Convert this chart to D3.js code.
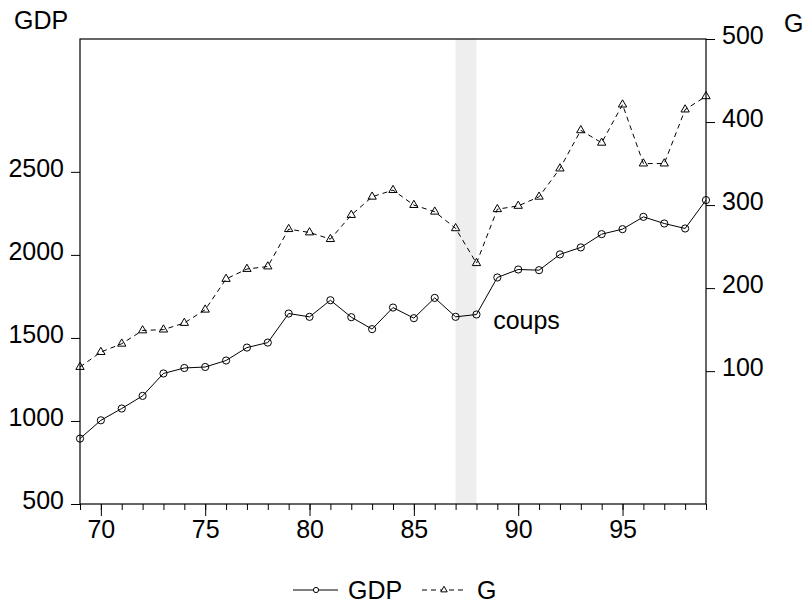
<!DOCTYPE html>
<html>
<head>
<meta charset="utf-8">
<script src="https://cdn.jsdelivr.net/npm/d3@7"></script>
<style>
body { margin: 0; background: #fff; }
svg text { font-family: "Liberation Sans", Arial, sans-serif; font-size: 25px; fill: #000; }
</style>
</head>
<body>
<svg id="chart"></svg>
<script>
const years = d3.range(69, 100);

const gdp = [894, 1004, 1075, 1151, 1286, 1319, 1325, 1364, 1442, 1472,
    1647, 1627, 1727, 1625, 1553, 1683, 1619, 1741, 1627, 1641,
    1864, 1912, 1908, 2003, 2045, 2125, 2155, 2229, 2189, 2159, 2330];

const gov = [105, 123, 133, 149, 150, 158, 174, 211, 223, 226,
    271, 267, 259, 288, 310, 318, 300, 292, 272, 230,
    295, 299, 310, 344, 390, 375, 421, 350, 350, 415, 431];

const leftTicks = [500, 1000, 1500, 2000, 2500];
const rightTicks = [100, 200, 300, 400, 500];
const xMajor = [70, 75, 80, 85, 90, 95];

const shade = [87, 88];
const note = {year: 88.8, gdp: 1553, text: "coups"};

const svgWidth = 806, svgHeight = 606;
const margin = {top: 39, left: 80},
    width = 626,
    height = 465;

const chart = d3.select("#chart")
    .attr("width", svgWidth)
    .attr("height", svgHeight);

const g = chart.append("g")
    .attr("transform", `translate(${margin.left},${margin.top})`);

var xScale = d3.scaleLinear().domain([69, 99]).range([0, width]);
var yLeft = d3.scaleLinear().domain([500, 3300]).range([height, 0]);
var yRight = d3.scaleLinear().domain([-60, 500]).range([height, 0]);

// shaded band
g.append("rect")
    .attr("x", xScale(shade[0]))
    .attr("y", 0)
    .attr("width", xScale(shade[1]) - xScale(shade[0]))
    .attr("height", height)
    .style("fill", "#eeeeee");

// minor x ticks (every year)
g.append("g")
    .attr("transform", `translate(0,${height})`)
    .call(d3.axisBottom(xScale).tickValues(years).tickSize(6).tickFormat(""))
    .call(a => a.select(".domain").remove());

g.append("g")
    .attr("transform", `translate(0,${height})`)
    .call(d3.axisBottom(xScale).tickValues(xMajor).tickSize(12).tickPadding(4).tickFormat(d3.format("d")))
    .call(a => a.select(".domain").remove());

g.append("g")
    .call(d3.axisLeft(yLeft).tickValues(leftTicks).tickSize(9).tickPadding(7).tickFormat(d3.format("d")))
    .call(a => a.select(".domain").remove())
    .call(a => a.selectAll("text").attr("dy", "0.17em"));

g.append("g")
    .attr("transform", `translate(${width},0)`)
    .call(d3.axisRight(yRight).tickValues(rightTicks).tickSize(9).tickPadding(7).tickFormat(d3.format("d")))
    .call(a => a.select(".domain").remove())
    .call(a => a.selectAll("text").attr("dy", "0.17em"));

chart.selectAll(".tick line").style("stroke", "#000");
chart.selectAll(".tick text").attr("font-family", null).attr("font-size", null);

// frame
g.append("rect")
    .attr("width", width).attr("height", height)
    .style("fill", "none").style("stroke", "#000").style("stroke-width", 1.2);

var gdpLine = d3.line()
    .x(function(d, i){ return xScale(years[i]); })
    .y(function(d){ return yLeft(d); });

var govLine = d3.line()
    .x(function(d, i){ return xScale(years[i]); })
    .y(function(d){ return yRight(d); });

g.append("path")
    .datum(gov)
    .attr("d", govLine)
    .style("fill", "none").style("stroke", "#000").style("stroke-width", 1)
    .style("stroke-dasharray", "5,4");

g.append("path")
    .datum(gdp)
    .attr("d", gdpLine)
    .style("fill", "none").style("stroke", "#000").style("stroke-width", 1);

var tri = d3.symbol(d3.symbolTriangle, 30);

g.selectAll(".tri")
    .data(gov)
    .enter()
    .append("path")
    .attr("class", "tri")
    .attr("d", tri)
    .attr("transform", (d, i) => `translate(${xScale(years[i])},${yRight(d)})`)
    .style("fill", "none").style("stroke", "#000").style("stroke-width", 1);

g.selectAll(".dot")
    .data(gdp)
    .enter()
    .append("circle")
    .attr("class", "dot")
    .attr("cx", (d, i) => xScale(years[i]))
    .attr("cy", d => yLeft(d))
    .attr("r", 3.6)
    .style("fill", "none").style("stroke", "#000").style("stroke-width", 1);

g.append("text")
    .attr("x", xScale(note.year))
    .attr("y", yLeft(note.gdp))
    .text(note.text);

// axis titles
chart.append("text").attr("x", 14).attr("y", 29).text("GDP");
chart.append("text").attr("x", 784).attr("y", 32).text("G");

// legend
const leg = chart.append("g").attr("transform", "translate(0,590)");
leg.append("line").attr("x1", 293).attr("x2", 338)
    .style("stroke", "#000");
leg.append("circle").attr("cx", 316).attr("cy", 0).attr("r", 2.6)
    .style("fill", "#fff").style("stroke", "#000");
leg.append("text").attr("x", 348).attr("y", 8.5).text("GDP");

leg.append("line").attr("x1", 422).attr("x2", 467)
    .style("stroke", "#000").style("stroke-dasharray", "5,4");
leg.append("path").attr("d", d3.symbol(d3.symbolTriangle, 18))
    .attr("transform", "translate(444,0)")
    .style("fill", "#fff").style("stroke", "#000");
leg.append("text").attr("x", 477).attr("y", 8.5).text("G");
</script>
</body>
</html>
